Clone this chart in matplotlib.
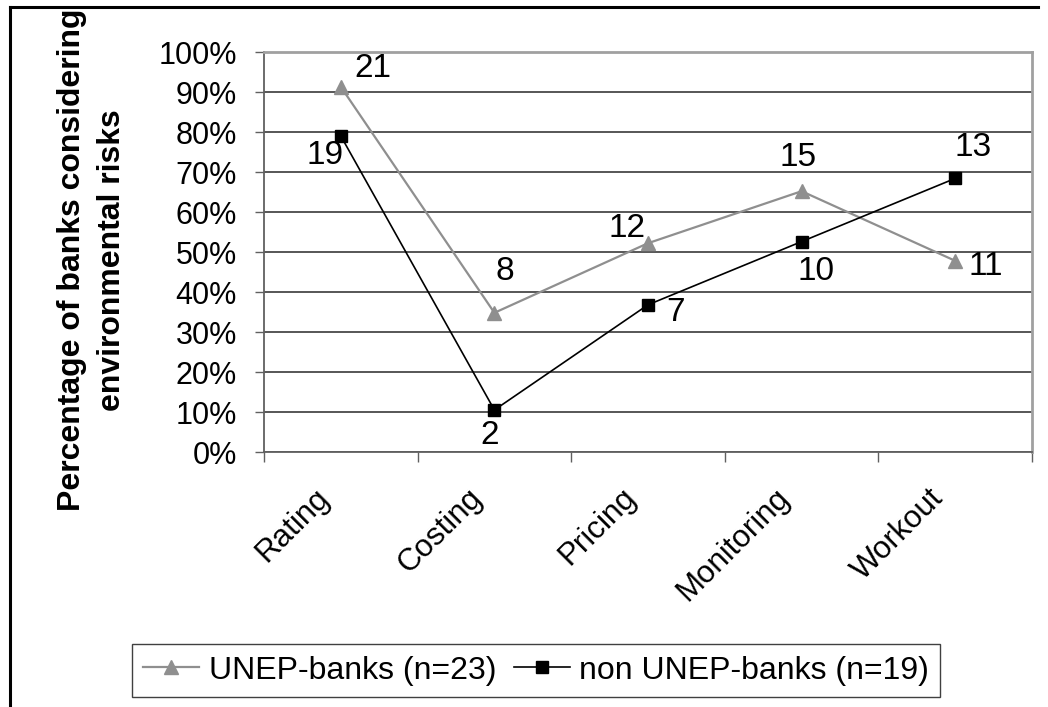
import matplotlib
matplotlib.use("Agg")
import matplotlib.pyplot as plt
from matplotlib.lines import Line2D
from matplotlib.transforms import ScaledTranslation

plt.rcParams['font.family'] = ['Liberation Sans', 'DejaVu Sans']

# data (percent of banks)
categories = ["Rating", "Costing", "Pricing", "Monitoring", "Workout"]
unep_pct = [91.3, 34.8, 52.2, 65.2, 47.8]
unep_labels = ["21", "8", "12", "15", "11"]
non_unep_pct = [79.0, 10.5, 36.8, 52.6, 68.4]
non_unep_labels = ["19", "2", "7", "10", "13"]
unep_name = "UNEP-banks (n=23)"
non_unep_name = "non UNEP-banks (n=19)"
yticks = list(range(0, 101, 10))

# label offsets in pixels (right, down)
unep_off = [(32, -18), (10, -41), (-21, -15), (-4, -34), (31, 6)]
non_off = [(-16, 20), (-5, 25), (27, 8), (14, 30), (18, -31)]

W, H = 1048, 707
fig = plt.figure(figsize=(W / 100, H / 100), dpi=100)
ax = fig.add_axes([264 / W, 1 - 452 / H, (1032 - 264) / W, 400 / H])

gray = '#8f8f8f'
x = list(range(len(categories)))
ax.plot(x, unep_pct, color=gray, lw=1.6, marker='^', ms=9.5, mfc=gray, mec=gray,
        zorder=3, label=unep_name)
ax.plot(x, non_unep_pct, color='black', lw=1.2, marker='s', ms=8.5, mfc='black',
        mec='black', zorder=4, label=non_unep_name)

for i in x:
    dx, dy = unep_off[i]
    ax.annotate(unep_labels[i], (i, unep_pct[i]), xytext=(dx * 0.72, -dy * 0.72),
                textcoords='offset points', ha='center', va='center', fontsize=24)
    dx, dy = non_off[i]
    ax.annotate(non_unep_labels[i], (i, non_unep_pct[i]), xytext=(dx * 0.72, -dy * 0.72),
                textcoords='offset points', ha='center', va='center', fontsize=24)

ax.set_xlim(-0.5, len(categories) - 0.5)
ax.set_ylim(0, 100)
ax.set_yticks(yticks)
ax.set_yticklabels([f"{v}%" for v in yticks], fontsize=22)
ax.yaxis.grid(True, color='#3a3a3a', lw=1.2)
ax.set_axisbelow(True)

ax.set_xticks(x)
ax.set_xticklabels(categories, fontsize=22.5, rotation=45, ha='right', va='top',
                   rotation_mode='anchor')
ax.set_xticks([i - 0.5 for i in range(len(categories) + 1)], minor=True)
ax.tick_params(axis='x', which='major', length=0, pad=22)
ax.tick_params(axis='x', which='minor', length=7, width=1, color='#606060')
ax.tick_params(axis='y', length=6.5, width=1, color='#606060', pad=13)
for lab in ax.get_xticklabels():
    lab.set_transform(lab.get_transform() + ScaledTranslation(-0.27, 0, fig.dpi_scale_trans))

for s in ['left', 'bottom']:
    ax.spines[s].set_color('#606060')
    ax.spines[s].set_linewidth(1.3)
for s in ['top', 'right']:
    ax.spines[s].set_color('#a0a0a0')
    ax.spines[s].set_linewidth(2)

fig.text(92 / W, 1 - 260 / H, "Percentage of banks considering\nenvironmental risks",
         rotation=90, ha='center', va='center', fontsize=23, fontweight='bold',
         multialignment='center', linespacing=1.4)

# outer frame (left and top edges only)
fig.add_artist(Line2D([10 / W, 10 / W], [0, 1 - 7 / H], color='black', lw=2.2,
                      transform=fig.transFigure))
fig.add_artist(Line2D([10 / W, 1038 / W], [1 - 7 / H, 1 - 7 / H], color='black', lw=2.2,
                      transform=fig.transFigure))

leg = fig.legend(loc='center', bbox_to_anchor=(536 / W, 1 - 670.5 / H), ncol=2,
                 fontsize=23, frameon=True, fancybox=False, edgecolor='#404040',
                 handlelength=1.75, handletextpad=0.3, columnspacing=0.55, borderpad=0.35,
                 framealpha=1)
leg.get_frame().set_linewidth(1.0)

fig.savefig('out.png', dpi=100)
